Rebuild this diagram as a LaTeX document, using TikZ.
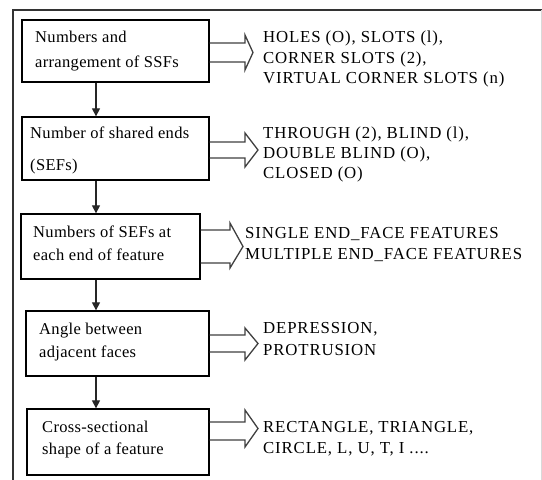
\documentclass[tikz,border=0pt]{standalone}
\usepackage{fontspec}
\setmainfont{Liberation Serif}
\newfontfamily\boxfont[LetterSpace=2]{Liberation Serif}
\newfontfamily\capsfont[LetterSpace=5]{Liberation Serif}
\usetikzlibrary{arrows.meta}
\begin{document}
\begin{tikzpicture}[x=1pt,y=-1pt,
  box/.style={draw=black,line width=1.3pt,inner sep=0pt,rectangle},
  lbl/.style={anchor=base west,inner sep=0pt,font=\boxfont\fontsize{16.5}{20}\selectfont},
  captext/.style={anchor=base west,inner sep=0pt,font=\capsfont\fontsize{16.8}{20}\selectfont},
  down/.style={draw=black!85,line width=1.2pt,-{Triangle[width=8pt,length=8pt]}},
  blockarr/.style={draw=black!75,line width=1.3pt,line join=miter}]
\useasboundingbox (0,0) rectangle (542,480);
\fill[white] (0,0) rectangle (542,480);
% outer frame
\draw[black!80,line width=2pt] (13,480) -- (13,10) -- (542,10);
\draw[black!15,line width=1pt] (541,10) -- (541,480);
% boxes
\node[box,minimum width=187pt,minimum height=62pt] (b1) at (115.5,51) {};
\node[box,minimum width=187pt,minimum height=63pt] (b2) at (115.5,148.5) {};
\node[box,minimum width=179pt,minimum height=65pt] (b3) at (110.5,246.5) {};
\node[box,minimum width=183pt,minimum height=65pt] (b4) at (117.5,343.5) {};
\node[box,minimum width=182pt,minimum height=66pt] (b5) at (118,442) {};
% box texts
\node[lbl] (t1a) at (35,42) {Numbers and};
\node[lbl] (t1b) at (35,67) {arrangement of SSFs};
\node[lbl] (t2a) at (30,138) {Number of shared ends};
\node[lbl] (t2b) at (30,170) {(SEFs)};
\node[lbl] (t3a) at (33,237) {Numbers of SEFs at};
\node[lbl] (t3b) at (33,260) {each end of feature};
\node[lbl] (t4a) at (39,334) {Angle between};
\node[lbl] (t4b) at (39,357) {adjacent faces};
\node[lbl] (t5a) at (42,432) {Cross-sectional};
\node[lbl] (t5b) at (42,454) {shape of a feature};
% right texts
\node[captext] (r1a) at (263,42.5) {HOLES (O), SLOTS (l),};
\node[captext] (r1b) at (263,63.5) {CORNER SLOTS (2),};
\node[captext] (r1c) at (263,83.5) {VIRTUAL CORNER SLOTS (n)};
\node[captext] (r2a) at (263,138.5) {THROUGH (2), BLIND (l),};
\node[captext] (r2b) at (263,158.5) {DOUBLE BLIND (O),};
\node[captext] (r2c) at (263,178.5) {CLOSED (O)};
\node[captext] (r3a) at (245,238.5) {SINGLE END\_FACE FEATURES};
\node[captext] (r3b) at (245,259.5) {MULTIPLE END\_FACE FEATURES};
\node[captext] (r4a) at (263,333.5) {DEPRESSION,};
\node[captext] (r4b) at (263,355.5) {PROTRUSION};
\node[captext] (r5a) at (263,432.5) {RECTANGLE, TRIANGLE,};
\node[captext] (r5b) at (263,453.5) {CIRCLE, L, U, T, I ....};
% vertical connectors
\coordinate (vx) at (96,0);
\draw[down] (b1.south -| vx) -- (b2.north -| vx);
\draw[down] (b2.south -| vx) -- (b3.north -| vx);
\draw[down] (b3.south -| vx) -- (b4.north -| vx);
\draw[down] (b4.south -| vx) -- (b5.north -| vx);
% block arrows
\draw[blockarr] (b1.east |- 0,43) -- (245,43) -- (245,35) -- (253,52.5) -- (245,70) -- (245,62) -- (b1.east |- 0,62);
\draw[blockarr] (b2.east |- 0,142) -- (245,142) -- (245,133) -- (258,150) -- (245,167) -- (245,158) -- (b2.east |- 0,158);
\draw[blockarr] (b3.east |- 0,230) -- (230,230) -- (230,223) -- (243,246.5) -- (230,268) -- (230,263) -- (b3.east |- 0,263);
\draw[blockarr] (b4.east |- 0,335) -- (245,335) -- (245,328) -- (258,343.5) -- (245,360) -- (245,352) -- (b4.east |- 0,352);
\draw[blockarr] (b5.east |- 0,422) -- (245,422) -- (245,410) -- (258,428.5) -- (245,447) -- (245,440) -- (b5.east |- 0,440);
\end{tikzpicture}
\end{document}
